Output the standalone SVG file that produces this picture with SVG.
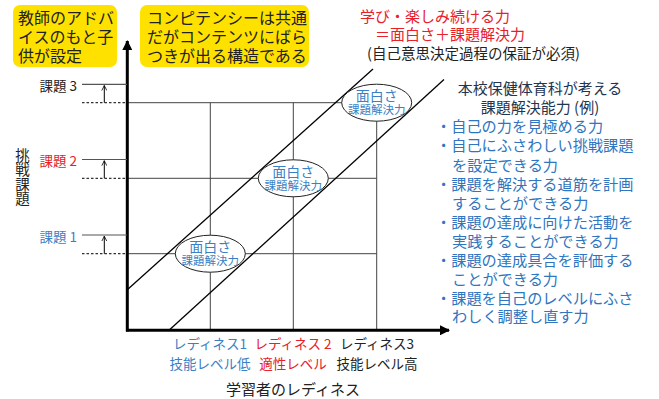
<svg xmlns="http://www.w3.org/2000/svg" width="659" height="399" viewBox="0 0 659 399">
<style>
text{font-family:"Noto Sans CJK JP","Noto Sans",sans-serif;dominant-baseline:central}
.box{fill:#ffe100}
.bt{font-size:16px;fill:#222}
.grid{stroke:#444;stroke-width:1;fill:none}
.axis{stroke:#000;stroke-width:3;fill:none}
.diag{stroke:#000;stroke-width:1.3;fill:none}
.el{fill:#fff;stroke:#222;stroke-width:1}
.e1{font-size:14px;fill:#3b7fc4;text-anchor:middle}
.e2{font-size:11.5px;fill:#3b7fc4;text-anchor:middle}
.blue{fill:#3b7fc4}
.red{fill:#e8202a}
.blk{fill:#222}
.lab{font-size:13.5px}
.rt{font-size:15.2px;fill:#2f75c0}
.hd{font-size:15px;fill:#1f3550;text-anchor:middle}
.tick{stroke:#555;stroke-width:1.2}
.dash{stroke:#333;stroke-width:1.2;stroke-dasharray:2.5 2}
</style>
<defs>
<marker id="ah" markerWidth="10" markerHeight="10" refX="9" refY="5" orient="auto" markerUnits="userSpaceOnUse">
<path d="M0,0 L10,5 L0,10 Z" fill="#000"/>
</marker>
<marker id="sm" markerWidth="6" markerHeight="6" refX="5" refY="3" orient="auto" markerUnits="userSpaceOnUse">
<path d="M0,0.5 L5,3 L0,5.5" fill="none" stroke="#000" stroke-width="0.8"/>
</marker>
</defs>

<g id="box-teacher">
<rect class="box" x="13" y="5" width="104" height="62" rx="7"/>
<text class="bt" x="18" y="17"><tspan x="18" y="17">教師のアドバ</tspan><tspan x="18" y="36">イスのもと子</tspan><tspan x="18" y="55">供が設定</tspan></text>
</g>
<g id="box-competency">
<rect class="box" x="140" y="5" width="169" height="62" rx="7"/>
<text class="bt" x="147" y="17"><tspan x="147" y="17">コンピテンシーは共通</tspan><tspan x="147" y="36">だがコンテンツにばら</tspan><tspan x="147" y="55">つきが出る構造である</tspan></text>
</g>

<g id="title-red">
<text x="360" y="15" style="font-size:15px" class="red"><tspan x="360" y="15">学び・楽しみ続ける力</tspan><tspan x="375" y="33">＝面白さ＋課題解決力</tspan></text>
<text x="367" y="52" style="font-size:14.5px" class="blk">(自己意思決定過程の保証が必須)</text>
</g>

<g id="grid">
<line class="grid" x1="127" y1="102.7" x2="376.7" y2="102.7"/>
<line class="grid" x1="127" y1="178.3" x2="376.7" y2="178.3"/>
<line class="grid" x1="127" y1="253.7" x2="376.7" y2="253.7"/>
<line class="grid" x1="210.3" y1="102.7" x2="210.3" y2="330"/>
<line class="grid" x1="293.3" y1="102.7" x2="293.3" y2="330"/>
<line class="grid" x1="376.7" y1="102.7" x2="376.7" y2="330"/>
</g>

<g id="connectors">
<line class="diag" x1="127" y1="290" x2="373" y2="69"/>
<line class="diag" x1="169.3" y1="330" x2="444" y2="79.5"/>
<line class="axis" x1="127.3" y1="331.5" x2="127.3" y2="41" marker-end="url(#ah)"/>
<line class="axis" x1="126" y1="330.3" x2="449" y2="330.3" marker-end="url(#ah)"/>
<line class="tick" x1="82" y1="84.3" x2="127" y2="84.3"/>
<line class="dash" x1="82" y1="102.7" x2="127" y2="102.7"/>
<line stroke="#000" stroke-width="1" x1="104.3" y1="102.7" x2="104.3" y2="85.5" marker-end="url(#sm)"/>
<line class="tick" x1="82" y1="159.5" x2="127" y2="159.5"/>
<line class="dash" x1="82" y1="178.3" x2="127" y2="178.3"/>
<line stroke="#000" stroke-width="1" x1="104.3" y1="178.3" x2="104.3" y2="160.7" marker-end="url(#sm)"/>
<line class="tick" x1="82" y1="235" x2="127" y2="235"/>
<line class="dash" x1="82" y1="253.7" x2="127" y2="253.7"/>
<line stroke="#000" stroke-width="1" x1="104.3" y1="253.7" x2="104.3" y2="236.2" marker-end="url(#sm)"/>
</g>

<g id="node-e1">
<ellipse class="el" cx="210.3" cy="253.7" rx="35" ry="18.5"/>
<text class="e1" x="210.3" y="246">面白さ</text>
<text class="e2" x="210.3" y="260">課題解決力</text>
</g>
<g id="node-e2">
<ellipse class="el" cx="293.3" cy="178.3" rx="35" ry="18.5"/>
<text class="e1" x="293.3" y="170.5">面白さ</text>
<text class="e2" x="293.3" y="184.5">課題解決力</text>
</g>
<g id="node-e3">
<ellipse class="el" cx="376.7" cy="102.7" rx="35" ry="18.5"/>
<text class="e1" x="376.7" y="95">面白さ</text>
<text class="e2" x="376.7" y="109">課題解決力</text>
</g>

<g id="y-labels">
<text class="lab blk" x="77" y="85" text-anchor="end">課題 3</text>
<text class="lab red" x="77" y="160" text-anchor="end">課題 2</text>
<text class="lab blue" x="77" y="235.5" text-anchor="end">課題 1</text>
<text class="blk" x="22.5" y="148" writing-mode="tb" style="font-size:14.5px">挑戦課題</text>
</g>

<g id="x-labels">
<text class="lab blue" x="210" y="343" text-anchor="middle"><tspan x="210" y="343">レディネス1</tspan><tspan x="210" y="363">技能レベル低</tspan></text>
<text class="lab red" x="293" y="343" text-anchor="middle"><tspan x="293" y="343">レディネス 2</tspan><tspan x="293" y="363">適性レベル</tspan></text>
<text class="lab blk" x="377" y="343" text-anchor="middle"><tspan x="377" y="343">レディネス3</tspan><tspan x="377" y="363">技能レベル高</tspan></text>
<text class="blk" x="293" y="388" text-anchor="middle" style="font-size:15px">学習者のレディネス</text>
</g>

<g id="ability-list">
<text class="hd" x="540" y="87"><tspan x="540" y="87">本校保健体育科が考える</tspan><tspan x="540" y="106">課題解決能力 (例)</tspan></text>
<text class="rt" x="436" y="125"><tspan x="436" y="125">・自己の力を見極める力</tspan><tspan x="436" y="144">・自己にふさわしい挑戦課題</tspan><tspan x="452" y="164">を設定できる力</tspan><tspan x="436" y="183">・課題を解決する道筋を計画</tspan><tspan x="452" y="202">することができる力</tspan><tspan x="436" y="221">・課題の達成に向けた活動を</tspan><tspan x="452" y="240">実践することができる力</tspan><tspan x="436" y="259">・課題の達成具合を評価する</tspan><tspan x="452" y="278">ことができる力</tspan><tspan x="436" y="297">・課題を自己のレベルにふさ</tspan><tspan x="452" y="315">わしく調整し直す力</tspan></text>
</g>
</svg>
